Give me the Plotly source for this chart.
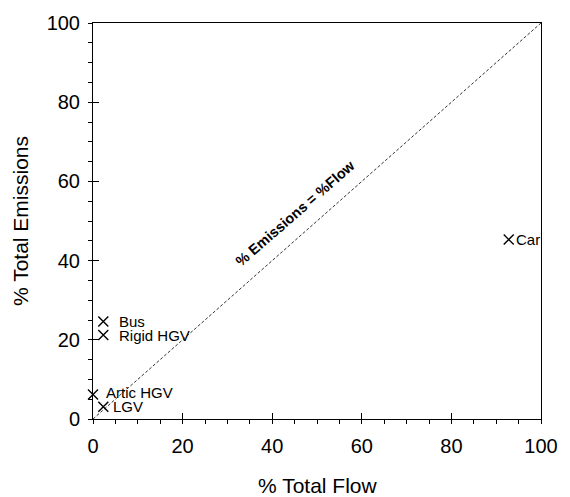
import plotly.graph_objects as go

categories = ["Bus", "Rigid HGV", "Artic HGV", "LGV", "Car"]
pct_flow = [2.3, 2.3, 0.0, 2.3, 92.8]
pct_emissions = [24.6, 21.2, 6.2, 3.1, 45.3]
x_ticks = [0, 20, 40, 60, 80, 100]
y_ticks = [0, 20, 40, 60, 80, 100]
parity = [0, 100]

# label offsets in px (style, not data)
label_xshift = [14, 14, 10.5, 7.5, 5.5]
label_yshift = [0, 0, 2, 0, 0]

FONT = "Liberation Sans, Arial, Helvetica, sans-serif"

fig = go.Figure()
fig.add_trace(go.Scatter(
    x=parity, y=parity, mode="lines",
    line=dict(color="#333333", width=1, dash="3px,2px"),
    hoverinfo="skip", showlegend=False,
))
fig.add_trace(go.Scatter(
    x=pct_flow, y=pct_emissions, mode="markers",
    marker=dict(symbol="x-thin", size=10, line=dict(color="black", width=1.4)),
    cliponaxis=False, showlegend=False,
))
for c, xv, yv, dx, dy in zip(categories, pct_flow, pct_emissions, label_xshift, label_yshift):
    fig.add_annotation(x=xv, y=yv, text=c, showarrow=False, xanchor="left",
                       yanchor="middle", xshift=dx, yshift=dy,
                       font=dict(size=15, color="black", family=FONT))

fig.add_annotation(x=45.2, y=52, text="<b>% Emissions = %Flow</b>", showarrow=False,
                   textangle=-41, font=dict(size=14.5, color="black", family=FONT))

# axis titles as annotations (precise placement)
fig.add_annotation(x=0.5, y=0, xref="paper", yref="paper", text="% Total Flow",
                   showarrow=False, yanchor="middle", yshift=-66,
                   font=dict(size=21, color="black", family=FONT))
fig.add_annotation(x=0, y=0.5, xref="paper", yref="paper", text="% Total Emissions",
                   showarrow=False, xanchor="center", xshift=-73, textangle=-90,
                   font=dict(size=21, color="black", family=FONT))

axis_common = dict(
    range=[0, 100], showgrid=False, zeroline=False,
    showline=True, linecolor="black", linewidth=1, mirror=True,
    ticks="outside", ticklen=4, tickcolor="black", tickwidth=1,
    tickfont=dict(size=20, color="black", family=FONT),
    minor=dict(dtick=5, ticks="outside", ticklen=4, tickcolor="black", tickwidth=1),
)
fig.update_layout(
    width=570, height=497,
    margin=dict(l=93, r=17, t=19, b=78),
    plot_bgcolor="white", paper_bgcolor="white",
    font=dict(family=FONT, color="black"),
    xaxis=dict(axis_common, tickvals=x_ticks, ticklabelstandoff=5),
    yaxis=dict(axis_common, tickvals=y_ticks, ticklabelstandoff=4),
    xaxis2=dict(overlaying="x", matches="x", anchor="y", side="bottom", range=[0, 100],
                tickvals=x_ticks, ticks="inside", ticklen=6, tickcolor="black",
                showticklabels=False, showgrid=False, zeroline=False, showline=False),
    yaxis2=dict(overlaying="y", matches="y", anchor="x", side="left", range=[0, 100],
                tickvals=y_ticks, ticks="inside", ticklen=6, tickcolor="black",
                showticklabels=False, showgrid=False, zeroline=False, showline=False),
)
# invisible trace to activate overlay axes
fig.add_trace(go.Scatter(x=[None], y=[None], xaxis="x2", yaxis="y2",
                         showlegend=False, hoverinfo="skip"))
fig.write_html("out.html", config={"displayModeBar": False},
               post_script="document.body.style.margin='0';")
